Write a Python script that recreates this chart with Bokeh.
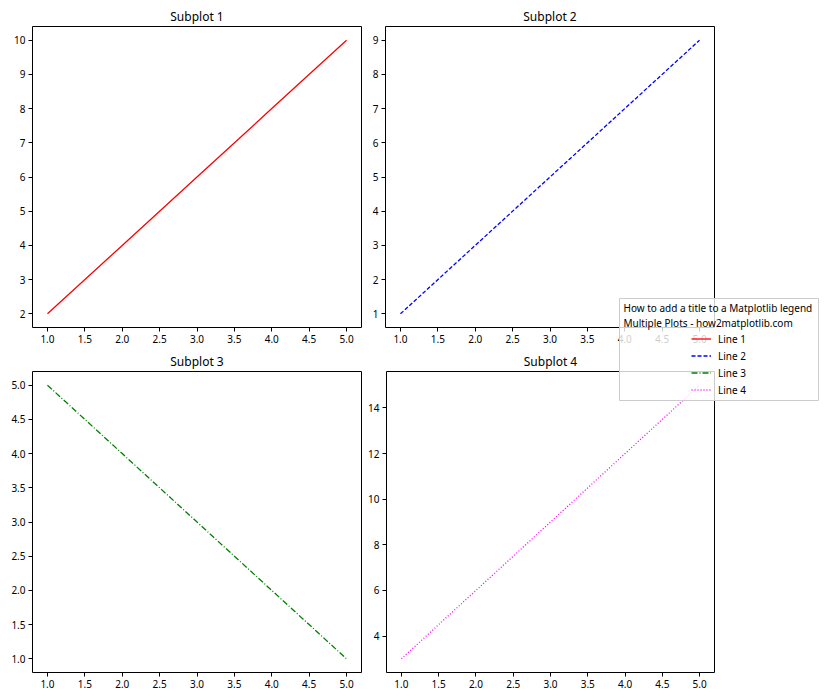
from bokeh.plotting import figure
from bokeh.layouts import column, row
from bokeh.models import (Range1d, FixedTicker, NumeralTickFormatter, Legend,
                          LegendItem, Label)
from bokeh.embed import file_html
from bokeh.resources import INLINE

# ---- data ----
x = [1, 2, 3, 4, 5]
y1 = [2, 4, 6, 8, 10]
y2 = [1, 3, 5, 7, 9]
y3 = [5, 4, 3, 2, 1]
y4 = [3, 6, 9, 12, 15]

titles = ["Subplot 1", "Subplot 2", "Subplot 3", "Subplot 4"]
labels = ["Line 1", "Line 2", "Line 3", "Line 4"]
legend_title = ["How to add a title to a Matplotlib legend",
                "Multiple Plots - how2matplotlib.com"]

x_ticks = [1.0, 1.5, 2.0, 2.5, 3.0, 3.5, 4.0, 4.5, 5.0]
y1_ticks = [2, 3, 4, 5, 6, 7, 8, 9, 10]
y2_ticks = [1, 2, 3, 4, 5, 6, 7, 8, 9]
y3_ticks = [1.0, 1.5, 2.0, 2.5, 3.0, 3.5, 4.0, 4.5, 5.0]
y4_ticks = [4, 6, 8, 10, 12, 14]

FONT = "Noto Sans"
colors = ["#ff0000", "#0000ff", "#008000", "#ff00ff"]
dashes = ["solid", "4 2", "6 2 1 2", "1 2"]


def pad_range(vals):
    lo, hi = min(vals), max(vals)
    m = 0.05 * (hi - lo)
    return Range1d(lo - m, hi + m)


def make_fig(ys, yt, yfmt, title, idx, width, height, mbl, mbr, mbt, mbb):
    p = figure(width=width, height=height, title=title,
               x_range=pad_range(x), y_range=pad_range(ys),
               toolbar_location=None, output_backend="svg",
               min_border_left=mbl, min_border_right=mbr,
               min_border_top=mbt, min_border_bottom=mbb)
    p.line(x, ys, line_color=colors[idx], line_width=1.3,
           line_dash=dashes[idx])
    p.grid.visible = False
    p.outline_line_color = "black"
    p.outline_line_width = 1
    p.outline_line_alpha = 1
    p.background_fill_color = "white"
    p.border_fill_color = "white"
    p.title.align = "center"
    p.title.text_font = FONT
    p.title.text_font_size = "12px"
    p.title.text_font_style = "normal"
    p.title.text_color = "black"
    p.title.standoff = 4
    p.xaxis.ticker = FixedTicker(ticks=x_ticks)
    p.yaxis.ticker = FixedTicker(ticks=yt)
    p.xaxis.formatter = NumeralTickFormatter(format="0.0")
    p.yaxis.formatter = NumeralTickFormatter(format=yfmt)
    for ax in (p.xaxis, p.yaxis):
        ax.axis_line_color = None
        ax.major_tick_out = 4
        ax.major_tick_in = 0
        ax.minor_tick_line_color = None
        ax.major_tick_line_color = "black"
        ax.major_label_text_font = FONT
        ax.major_label_text_font_size = "10px"
        ax.major_label_text_color = "black"
        ax.major_label_standoff = 3
    return p


W1, W2 = 365, 359
H1, H2 = 348, 352
p1 = make_fig(y1, y1_ticks, "0", titles[0], 0, W1, H1, 32, 4, 26, 21)
p2 = make_fig(y2, y2_ticks, "0", titles[1], 1, W2, H1, 20, 10, 26, 21)
p3 = make_fig(y3, y3_ticks, "0.0", titles[2], 2, W1, H2, 32, 4, 23, 28)
p4 = make_fig(y4, y4_ticks, "0", titles[3], 3, W2, H2, 20, 10, 23, 28)

# ---- legend box (overlaid on top of the grid) ----
LW, LH = 200, 103
lg = figure(width=LW, height=LH, x_range=Range1d(0, LW), y_range=Range1d(LH, 0),
            toolbar_location=None, output_backend="svg",
            x_axis_location=None, y_axis_location=None,
            min_border=0, min_border_left=0, min_border_right=0,
            min_border_top=0, min_border_bottom=0,
            styles={"position": "absolute", "left": "619px", "top": "298px",
                    "z-index": "10"})
lg.grid.visible = False
lg.background_fill_color = "white"
lg.background_fill_alpha = 0.8
lg.border_fill_alpha = 0
lg.outline_line_color = "#cccccc"
lg.outline_line_width = 1
lg.extra_x_ranges = {"off": Range1d(1000, 1001)}

items = []
for i, ys in enumerate([y1, y2, y3, y4]):
    r = lg.line(x, ys, line_color=colors[i], line_width=1.3,
                line_dash=dashes[i], x_range_name="off")
    items.append(LegendItem(label=labels[i], renderers=[r]))

for k, t in enumerate(legend_title):
    lg.add_layout(Label(x=4, y=9.7 + 14.3 * k, text=t, text_font=FONT,
                        text_font_size="10px", text_color="black",
                        text_baseline="middle", text_align="left"))

leg = Legend(items=items, location=(72, 3), padding=0, margin=0,
             border_line_color=None, background_fill_alpha=0,
             glyph_width=20, glyph_height=17, label_height=17, spacing=0,
             label_standoff=7, label_text_font=FONT,
             label_text_font_size="10px", label_text_color="black")
lg.add_layout(leg)

layout = column(row(p1, p2), row(p3, p4), lg)

open("out.html", "w").write(file_html(layout, INLINE))
